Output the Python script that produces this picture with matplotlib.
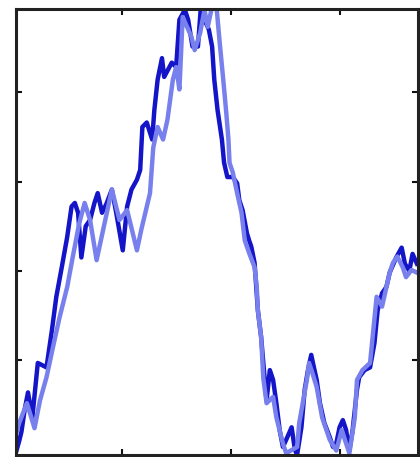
import matplotlib
matplotlib.use("Agg")
import matplotlib.pyplot as plt

# Trace 1 (dark blue)
t_dark = [0.00, 0.03, 0.06, 0.08, 0.11, 0.14, 0.18, 0.23, 0.31, 0.36, 0.40, 0.45,
          0.50, 0.54, 0.57, 0.60, 0.63, 0.67, 0.71, 0.75, 0.78, 0.82, 0.86, 0.91,
          0.95, 1.01, 1.05, 1.09, 1.14, 1.17, 1.19, 1.23, 1.28, 1.30, 1.33, 1.37,
          1.39, 1.46, 1.50, 1.53, 1.58, 1.61, 1.65, 1.70, 1.73, 1.76, 1.80, 1.83,
          1.85, 1.88, 1.92, 1.94, 1.97, 2.02, 2.06, 2.08, 2.11, 2.15, 2.17, 2.19,
          2.22, 2.25, 2.28, 2.31, 2.33, 2.36, 2.39, 2.42, 2.45, 2.48, 2.51, 2.56,
          2.59, 2.61, 2.65, 2.68, 2.71, 2.74, 2.77, 2.79, 2.82, 2.86, 2.91, 2.94,
          2.97, 3.00, 3.03, 3.06, 3.09, 3.12, 3.16, 3.18, 3.23, 3.28, 3.32, 3.35,
          3.39, 3.43, 3.46, 3.52, 3.57, 3.60, 3.64, 3.67, 3.71]
v_dark = [-0.03, -0.03, 0.10, 0.20, 0.45, 0.64, 0.36, 0.97, 0.92, 1.34, 1.71, 2.04,
          2.38, 2.72, 2.76, 2.65, 2.15, 2.50, 2.57, 2.76, 2.87, 2.65, 2.75, 2.91,
          2.65, 2.23, 2.72, 2.91, 3.02, 3.13, 3.61, 3.66, 3.47, 3.80, 4.14, 4.38,
          4.17, 4.33, 4.28, 4.81, 4.92, 4.81, 4.51, 4.51, 5.00, 4.81, 4.70, 4.51,
          4.14, 3.80, 3.47, 3.21, 3.05, 3.05, 2.98, 2.79, 2.68, 2.42, 2.34, 2.27,
          2.09, 1.56, 1.26, 0.83, 0.55, 0.89, 0.78, 0.52, 0.22, 0.03, 0.11, 0.25,
          0.00, -0.06, 0.25, 0.67, 0.89, 1.06, 0.89, 0.78, 0.52, 0.30, 0.14, 0.03,
          0.07, 0.25, 0.33, 0.22, -0.01, 0.22, 0.67, 0.81, 0.89, 0.92, 1.19, 1.56,
          1.75, 1.82, 1.98, 2.15, 2.26, 2.08, 2.00, 2.19, 2.08]

# Trace 2 (light blue)
t_light = [0.00, 0.06, 0.13, 0.20, 0.25, 0.31, 0.37, 0.43, 0.50, 0.55, 0.61, 0.66,
           0.71, 0.77, 0.83, 0.91, 0.98, 1.05, 1.14, 1.18, 1.26, 1.29, 1.33, 1.38,
           1.42, 1.47, 1.50, 1.53, 1.56, 1.64, 1.67, 1.72, 1.76, 1.79, 1.83, 1.87,
           1.90, 1.93, 1.96, 1.98, 1.99, 2.02, 2.06, 2.10, 2.13, 2.17, 2.22, 2.24,
           2.25, 2.28, 2.30, 2.33, 2.39, 2.42, 2.48, 2.51, 2.61, 2.63, 2.70, 2.72,
           2.75, 2.79, 2.84, 2.91, 2.97, 3.02, 3.06, 3.09, 3.14, 3.16, 3.21, 3.28,
           3.34, 3.39, 3.46, 3.49, 3.53, 3.58, 3.61, 3.66, 3.71]
v_light = [0.05, 0.30, 0.52, 0.24, 0.55, 0.81, 1.15, 1.48, 1.82, 2.15, 2.53, 2.76,
           2.57, 2.12, 2.46, 2.91, 2.57, 2.68, 2.23, 2.46, 2.87, 3.38, 3.61, 3.47,
           3.69, 4.14, 4.28, 4.03, 4.84, 4.62, 4.47, 4.66, 4.92, 4.73, 4.96, 4.96,
           4.55, 4.17, 3.77, 3.47, 3.21, 3.10, 2.87, 2.65, 2.34, 2.20, 2.04, 1.82,
           1.56, 1.26, 0.80, 0.52, 0.59, 0.36, 0.07, -0.04, 0.03, 0.30, 0.78, 0.97,
           0.86, 0.70, 0.36, 0.11, -0.01, 0.22, 0.07, -0.04, 0.36, 0.78, 0.89, 0.97,
           1.71, 1.60, 1.98, 2.09, 2.16, 2.04, 1.93, 2.01, 1.98]

fig = plt.figure(figsize=(4.20, 4.57), dpi=100)
ax = fig.add_axes([16 / 420, 2 / 457, 402 / 420, 446 / 457])

ax.plot(t_dark, v_dark, color="#1414c8", lw=3.2)
ax.plot(t_light, v_light, color="#7880ee", lw=3.2)

ax.set_xlim(0.03, 3.72)
ax.set_ylim(-0.06, 4.93)
ax.set_xticks([1, 2, 3])
ax.set_yticks([1, 2, 3, 4])
ax.tick_params(direction="in", length=4, width=1.5, top=True, right=True,
               labelbottom=False, labelleft=False, color="#111111")
for s in ax.spines.values():
    s.set_linewidth(2.2)
    s.set_color("#222222")

fig.savefig("out.png", dpi=100)
